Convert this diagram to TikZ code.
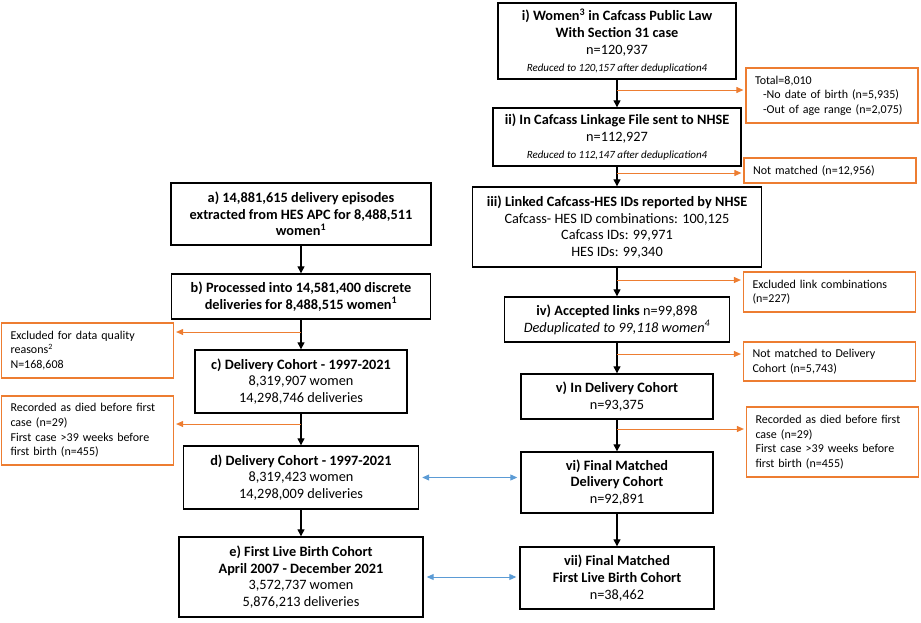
\documentclass[tikz,border=0pt]{standalone}
\usepackage{fontspec}
\setmainfont{Carlito}
\usepackage{tikz}
\usepackage{xcolor}
\usetikzlibrary{positioning, arrows.meta}
\definecolor{floworange}{RGB}{237, 125, 49}
\definecolor{flowblue}{RGB}{91, 155, 213}
\newcommand{\smallnote}[1]{{\fontsize{11}{13}\selectfont\itshape #1}}
\tikzset{
    mainbox/.style={draw, line width=1.4pt, align=center, inner sep=2pt, font=\fontsize{14.3}{16.7}\selectfont},
    orbox/.style={draw=floworange, line width=1.2pt, align=left, inner xsep=9pt, inner ysep=2pt, minimum width=170pt, text width=154pt, font=\fontsize{12}{14.6}\selectfont},
    darrow/.style={-{Triangle[length=7pt,width=7pt]}, line width=1.2pt},
    oarrow/.style={floworange, -{Triangle[length=7pt,width=6pt]}, line width=1pt, shorten >=2pt},
    barrow/.style={flowblue, {Triangle[length=7pt,width=6pt]}-{Triangle[length=7pt,width=6pt]}, line width=1pt, shorten >=3pt, shorten <=3pt}
}

\begin{document}
\begin{tikzpicture}[x=1pt, y=-1pt]
    \useasboundingbox (0,0) rectangle (921,622);
    % Cafcass column
    \node[mainbox, minimum width=238pt, minimum height=76pt] (wi) at (617,41)
        {\textbf{i) Women\textsuperscript{3} in Cafcass Public Law}\\ \textbf{With Section 31 case}\\ n=120,937\\ \smallnote{Reduced to 120,157 after deduplication4}};
    \node[mainbox, minimum width=248pt, minimum height=58pt] (wii) at (617,137)
        {\textbf{ii) In Cafcass Linkage File sent to NHSE}\\ n=112,927\\ \smallnote{Reduced to 112,147 after deduplication4}};
    \node[mainbox, minimum width=289pt, minimum height=80pt] (wiii) at (617,227)
        {\textbf{iii) Linked Cafcass-HES IDs reported by NHSE}\\ Cafcass- HES ID combinations: 100,125\\ Cafcass IDs: 99,971\\ HES IDs: 99,340};
    \node[mainbox, minimum width=225pt, minimum height=45pt] (wiv) at (617,319.5)
        {\textbf{iv) Accepted links} n=99,898\\ \textit{Deduplicated to 99,118 women\textsuperscript{4}}};
    \node[mainbox, minimum width=192pt, minimum height=45pt] (wv) at (617,396.5)
        {\textbf{v) In Delivery Cohort}\\ n=93,375};
    \node[mainbox, minimum width=192pt, minimum height=61pt] (wvi) at (617,482.5)
        {\textbf{vi) Final Matched}\\ \textbf{Delivery Cohort}\\ n=92,891};
    \node[mainbox, minimum width=194pt, minimum height=62pt] (wvii) at (617,578)
        {\textbf{vii) Final Matched}\\ \textbf{First Live Birth Cohort}\\ n=38,462};

    % HES column
    \node[mainbox, minimum width=260pt, minimum height=62pt] (ha) at (301,214)
        {\textbf{a) 14,881,615 delivery episodes}\\ \textbf{extracted from HES APC for 8,488,511}\\ \textbf{women\textsuperscript{1}}};
    \node[mainbox, minimum width=259pt, minimum height=45pt] (hb) at (301,296.5)
        {\textbf{b) Processed into 14,581,400 discrete}\\ \textbf{deliveries for 8,488,515 women\textsuperscript{1}}};
    \node[mainbox, minimum width=212pt, minimum height=63pt] (hc) at (301,381.5)
        {\textbf{c) Delivery Cohort - 1997-2021}\\ 8,319,907 women\\ 14,298,746 deliveries};
    \node[mainbox, minimum width=235pt, minimum height=63pt] (hd) at (301,477.5)
        {\textbf{d) Delivery Cohort - 1997-2021}\\ 8,319,423 women\\ 14,298,009 deliveries};
    \node[mainbox, minimum width=244pt, minimum height=80pt] (he) at (301,577)
        {\textbf{e) First Live Birth Cohort}\\ \textbf{April 2007 - December 2021}\\ 3,572,737 women\\ 5,876,213 deliveries};

    % exclusions
    \node[orbox, minimum height=55pt] (xtotal) at (832,95.5)
        {Total=8,010\\ \hspace*{8pt}-No date of birth (n=5,935)\\ \hspace*{8pt}-Out of age range (n=2,075)};
    \node[orbox, minimum height=25pt] (xnotm) at (830,170.5)
        {Not matched (n=12,956)};
    \node[orbox, minimum height=40pt] (xlink) at (829.5,292)
        {Excluded link combinations\\ (n=227)};
    \node[orbox, minimum height=39pt] (xcoh) at (829.5,361.5)
        {Not matched to Delivery\\ Cohort (n=5,743)};
    \node[orbox, minimum height=70pt] (xdied) at (832.5,442)
        {Recorded as died before first\\ case (n=29)\\ First case >39 weeks before\\ first birth (n=455)};
    \node[orbox, minimum height=55pt] (xqual) at (87.5,350.5)
        {Excluded for data quality\\ reasons\textsuperscript{2}\\ N=168,608};
    \node[orbox, minimum height=69pt] (xdiedh) at (87.5,430.5)
        {Recorded as died before first\\ case (n=29)\\ First case >39 weeks before\\ first birth (n=455)};

    % main flow
    \draw[darrow] (wi) -- (wii);
    \draw[darrow] (wii) -- (wiii);
    \draw[darrow] (wiii) -- (wiv);
    \draw[darrow] (wiv) -- (wv);
    \draw[darrow] (wv) -- (wvi);
    \draw[darrow] (wvi) -- (wvii);
    \draw[darrow] (ha) -- (hb);
    \draw[darrow] (hb) -- (hc);
    \draw[darrow] (hc) -- (hd);
    \draw[darrow] (hd) -- (he);

    % branches to exclusions
    \coordinate (s1) at (617,90);
    \coordinate (s2) at (617,173);
    \coordinate (s3) at (617,280);
    \coordinate (s4) at (617,354);
    \coordinate (s5) at (617,429);
    \coordinate (t1) at (301,332);
    \coordinate (t2) at (301,424);
    \draw[oarrow] (s1) -- (s1 -| xtotal.west);
    \draw[oarrow] (s2) -- (s2 -| xnotm.west);
    \draw[oarrow] (s3) -- (s3 -| xlink.west);
    \draw[oarrow] (s4) -- (s4 -| xcoh.west);
    \draw[oarrow] (s5) -- (s5 -| xdied.west);
    \draw[oarrow] (t1) -- (t1 -| xqual.east);
    \draw[oarrow] (t2) -- (t2 -| xdiedh.east);

    % matched cohorts
    \draw[barrow] (hd.east) -- (hd.east -| wvi.west);
    \draw[barrow] (he.east) -- (he.east -| wvii.west);
\end{tikzpicture}
\end{document}
